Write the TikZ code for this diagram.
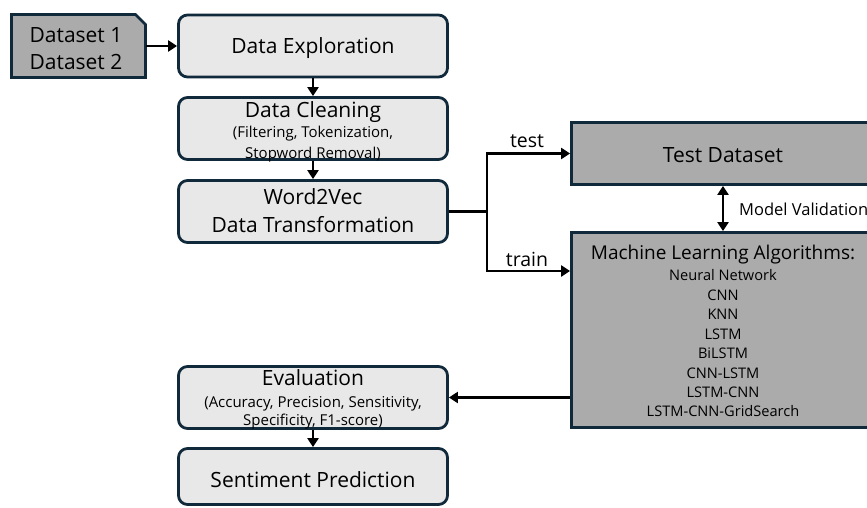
\documentclass[tikz,border=0pt]{standalone}
\usepackage{fontspec}
\setmainfont{Open Sans}
\usetikzlibrary{arrows.meta}
\definecolor{edgec}{HTML}{10293B}
\definecolor{lightc}{HTML}{E8E8E8}
\definecolor{darkc}{HTML}{ABABAB}
\newcommand{\bigf}{\fontsize{21}{24}\selectfont}
\newcommand{\subf}{\fontsize{15}{18}\selectfont}
\newcommand{\itemf}{\fontsize{14.6}{18}\selectfont}
\newcommand{\labf}{\fontsize{16.5}{18}\selectfont}
\begin{document}
\begin{tikzpicture}[x=1pt,y=-1pt,
  proc/.style={draw=edgec, line width=2.8pt, fill=lightc, rounded corners=9pt,
    minimum width=269pt, minimum height=62pt, inner sep=0pt},
  gbox/.style={draw=edgec, line width=2.8pt, fill=darkc,
    minimum width=303pt, inner sep=0pt},
  txt/.style={anchor=base, inner sep=0pt, font=\bigf},
  sub/.style={anchor=base, inner sep=0pt, font=\subf},
  itm/.style={anchor=base, inner sep=0pt, font=\itemf},
  arr/.style={-{Triangle[length=9pt,width=11pt]}, line width=2.5pt, black},
  darr/.style={{Triangle[length=9pt,width=11pt]}-{Triangle[length=9pt,width=11pt]}, line width=2.5pt, black}]
\useasboundingbox (0,0) rectangle (867,508);
\clip (0,0) rectangle (867,508);

% dataset box (cut corner)
\draw[draw=edgec, line width=2.8pt, fill=darkc]
  (11.5,14.5) -- (135.5,14.5) -- (145.5,24.5) -- (145.5,77.5) -- (11.5,77.5) -- cycle;
\node[minimum width=134pt, minimum height=63pt, inner sep=0pt] (ds) at (78.5,46) {};

% boxes
\node[proc] (de) at (313,46) {};
\node[proc] (dc) at (313,128.5) {};
\node[proc] (wv) at (313,211.5) {};
\node[proc] (ev) at (313,397.5) {};
\node[proc, minimum height=56pt] (sp) at (313,476.5) {};
\node[gbox, minimum height=62pt] (td) at (723,153.5) {};
\node[gbox, minimum height=195pt] (ml) at (723,330) {};

% texts
\node[txt] (ds1) at (76,43) {Dataset 1};
\node[txt] (ds2) at (76,70) {Dataset 2};
\node[txt] (det) at (313,54) {Data Exploration};
\node[txt] (dct) at (313,118) {Data Cleaning};
\node[sub] (dcs1) at (313,138) {(Filtering, Tokenization,};
\node[sub] (dcs2) at (313,158) {Stopword Removal)};
\node[txt] (wvt1) at (313,204) {Word2Vec};
\node[txt] (wvt2) at (313,232) {Data Transformation};
\node[txt] (tdt) at (723,162) {Test Dataset};
\node[txt, font=\fontsize{19}{22}\selectfont] (mlt) at (723,259) {Machine Learning Algorithms:};
\node[itm] (m1) at (723,280) {Neural Network};
\node[itm] (m2) at (723,300) {CNN};
\node[itm] (m3) at (723,319) {KNN};
\node[itm] (m4) at (723,339) {LSTM};
\node[itm] (m5) at (723,358) {BiLSTM};
\node[itm] (m6) at (723,378) {CNN-LSTM};
\node[itm] (m7) at (723,397) {LSTM-CNN};
\node[itm] (m8) at (723,416) {LSTM-CNN-GridSearch};
\node[txt] (evt) at (313,385) {Evaluation};
\node[sub] (evs1) at (313,407) {(Accuracy, Precision, Sensitivity,};
\node[sub] (evs2) at (313,425) {Specificity, F1-score)};
\node[txt] (spt) at (313,487) {Sentiment Prediction};

% connectors
\draw[arr] (ds.east) -- (de.west);
\draw[arr] (de.south) -- (dc.north);
\draw[arr] (dc.south) -- (wv.north);
\draw[arr] (ev.south) -- (sp.north);

\coordinate (split) at (487,211.5);
\coordinate (trainy) at (0,271);
\draw[line width=2.5pt] (wv.east) -- (split);
\draw[arr] (split) |- (td.west);
\draw[arr] (split) |- (ml.west |- trainy);
\node[txt, font=\fontsize{19.5}{22}\selectfont] (testl) at (527,147) {test};
\node[txt, font=\fontsize{19.5}{22}\selectfont] (trainl) at (527,266) {train};

\draw[darr] (td.south) -- (ml.north);
\node[anchor=base west, inner sep=0pt, font=\labf] (mv) at (739,215) {Model Validation};

\draw[arr] (ml.west |- ev.east) -- (ev.east);
\end{tikzpicture}
\end{document}
